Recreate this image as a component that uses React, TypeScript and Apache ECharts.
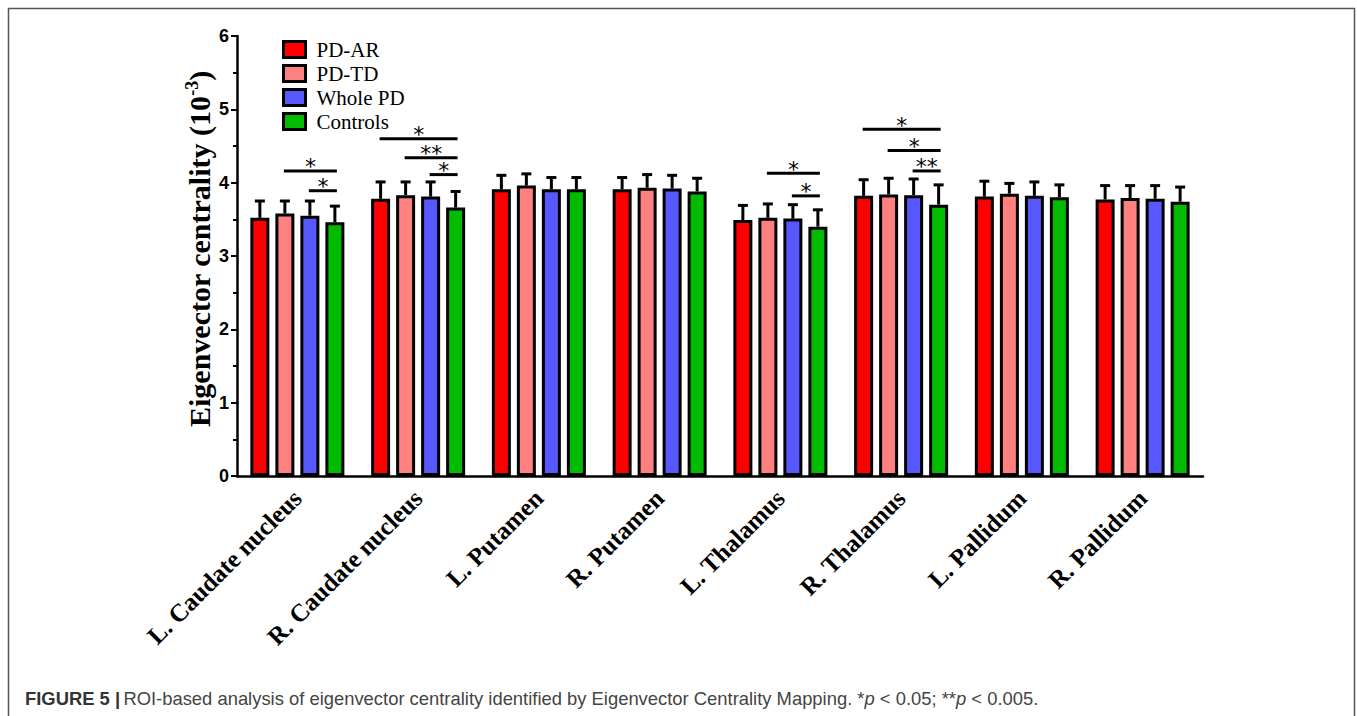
import React, { useEffect, useRef } from "react";
import * as echarts from "echarts";

const categories = [
  "L. Caudate nucleus",
  "R. Caudate nucleus",
  "L. Putamen",
  "R. Putamen",
  "L. Thalamus",
  "R. Thalamus",
  "L. Pallidum",
  "R. Pallidum",
];
const seriesNames = ["PD-AR", "PD-TD", "Whole PD", "Controls"];
const seriesColors = ["#ff0000", "#ff8080", "#5858ff", "#00bb00"];

const pdAR = [3.52, 3.78, 3.91, 3.91, 3.49, 3.82, 3.81, 3.77];
const pdARsd = [0.23, 0.23, 0.19, 0.16, 0.2, 0.22, 0.21, 0.19];
const pdTD = [3.58, 3.83, 3.96, 3.93, 3.52, 3.84, 3.85, 3.79];
const pdTDsd = [0.17, 0.18, 0.16, 0.18, 0.19, 0.22, 0.14, 0.17];
const wholePD = [3.55, 3.81, 3.91, 3.92, 3.51, 3.83, 3.82, 3.78];
const wholePDsd = [0.2, 0.2, 0.16, 0.18, 0.19, 0.22, 0.19, 0.18];
const controls = [3.46, 3.66, 3.91, 3.88, 3.4, 3.7, 3.8, 3.74];
const controlsSd = [0.22, 0.22, 0.16, 0.18, 0.23, 0.27, 0.17, 0.2];

const yTicks = [0, 1, 2, 3, 4, 5, 6];

// significance brackets
const sigCat = [0, 0, 1, 1, 1, 4, 4, 5, 5, 5];
const sigFrom = [1, 2, 0, 1, 2, 1, 2, 0, 1, 2];
const sigTo = [3, 3, 3, 3, 3, 3, 3, 3, 3, 3];
const sigY = [4.16, 3.89, 4.6, 4.34, 4.11, 4.13, 3.82, 4.73, 4.44, 4.16];
const sigLabel = ["*", "*", "*", "**", "*", "*", "*", "*", "*", "**"];

const means = [pdAR, pdTD, wholePD, controls];
const sds = [pdARsd, pdTDsd, wholePDsd, controlsSd];

const BAR_W = 19;
const BAR_GAP = 0.316;
const barOffset = (i: number) => (i - 1.5) * BAR_W * (1 + BAR_GAP);

export default function App() {
  const ref = useRef<HTMLDivElement>(null);
  useEffect(() => {
    if (!ref.current) return;
    const chart = echarts.init(ref.current, null, { renderer: "svg" });

    const barSeries = seriesNames.map((name, i) => ({
      name,
      type: "bar",
      data: means[i],
      barWidth: BAR_W,
      barGap: BAR_GAP * 100 + "%",
      itemStyle: { color: seriesColors[i], borderColor: "#000", borderWidth: 3 },
      z: 2,
    }));

    const errData: number[][] = [];
    for (let s = 0; s < 4; s++) {
      for (let c = 0; c < categories.length; c++) {
        errData.push([c, s, means[s][c], means[s][c] + sds[s][c]]);
      }
    }

    const sigData = sigCat.map((c, k) => [c, sigFrom[k], sigTo[k], sigY[k]]);

    const option: any = {
      animation: false,
      backgroundColor: "#fff",
      grid: { left: 237, right: 154, top: 36, bottom: 240, containLabel: false },
      legend: {
        orient: "vertical",
        left: 277,
        top: 34,
        itemWidth: 22,
        itemHeight: 16,
        itemGap: 3,
        icon: "rect",
        data: seriesNames,
        itemStyle: { borderColor: "#000", borderWidth: 3 },
        textStyle: {
          fontFamily: "'Liberation Serif', 'Times New Roman', serif",
          fontSize: 21,
          color: "#000",
          padding: [0, 0, 0, 6],
          lineHeight: 20,
        },
      },
      xAxis: {
        type: "category",
        data: categories,
        axisLine: { lineStyle: { color: "#000", width: 2.5 } },
        axisTick: { alignWithLabel: true, length: 5, lineStyle: { color: "#000", width: 2 } },
        axisLabel: {
          interval: 0,
          rotate: 45,
          margin: 18,
          color: "#000",
          fontSize: 25,
          fontWeight: "bold",
          fontFamily: "'Liberation Serif', 'Times New Roman', serif",
        },
      },
      yAxis: {
        type: "value",
        min: yTicks[0],
        max: yTicks[yTicks.length - 1],
        interval: 1,
        axisLine: { show: true, lineStyle: { color: "#000", width: 2.5 } },
        axisTick: { show: true, length: 6, lineStyle: { color: "#000", width: 2 } },
        minorTick: { show: true, splitNumber: 2, length: 4, lineStyle: { color: "#000", width: 2 } },
        splitLine: { show: false },
        axisLabel: {
          margin: 8,
          color: "#000",
          fontSize: 18,
          fontWeight: "bold",
          fontFamily: "'Liberation Sans Narrow', 'Arial Narrow', 'Liberation Sans', sans-serif",
        },
      },
      graphic: [
        {
          type: "rect",
          shape: { x: 8.5, y: 8.5, width: 1346, height: 730 },
          style: { fill: "none", stroke: "#555", lineWidth: 1.5 },
          silent: true,
        },
        {
          type: "text",
          x: 199,
          y: 249,
          rotation: Math.PI / 2,
          style: {
            text: "{a|Eigenvector centrality (10}{b|-3}{a|)}",
            align: "center",
            verticalAlign: "middle",
            rich: {
              a: {
                fontSize: 30,
                fontWeight: "bold",
                fontFamily: "'Liberation Serif', 'Times New Roman', serif",
                fill: "#000",
                color: "#000",
              },
              b: {
                fontSize: 18,
                fontWeight: "bold",
                fontFamily: "'Liberation Serif', 'Times New Roman', serif",
                fill: "#000",
                color: "#000",
                verticalAlign: "top",
                padding: [0, 0, 14, 0],
              },
            },
          },
        },
        {
          type: "text",
          x: 25,
          y: 698,
          style: {
            text: "{b|FIGURE 5 |} {r|ROI-based analysis of eigenvector centrality identified by Eigenvector Centrality Mapping. *}{i|p}{r| < 0.05; **}{i|p}{r| < 0.005.}",
            align: "left",
            verticalAlign: "middle",
            rich: {
              b: { fontSize: 18.4, fontWeight: "bold", fontFamily: "'Liberation Sans', Arial, sans-serif", fill: "#333", color: "#333" },
              r: { fontSize: 18.4, fontFamily: "'Liberation Sans', Arial, sans-serif", fill: "#444", color: "#444" },
              i: { fontSize: 18.4, fontStyle: "italic", fontFamily: "'Liberation Sans', Arial, sans-serif", fill: "#444", color: "#444" },
            },
          },
        },
      ],
      series: [
        ...barSeries,
        {
          type: "custom",
          name: "errors",
          data: errData,
          encode: { x: 0, y: 3 },
          z: 5,
          silent: true,
          renderItem: (params: any, api: any) => {
            const c = api.value(0);
            const s = api.value(1);
            const p0 = api.coord([c, api.value(2)]);
            const p1 = api.coord([c, api.value(3)]);
            const x = p0[0] + barOffset(s);
            return {
              type: "group",
              children: [
                { type: "line", shape: { x1: x, y1: p0[1], x2: x, y2: p1[1] }, style: { stroke: "#000", lineWidth: 3 } },
                { type: "line", shape: { x1: x - 5, y1: p1[1], x2: x + 5, y2: p1[1] }, style: { stroke: "#000", lineWidth: 3 } },
              ],
            };
          },
        },
        {
          type: "custom",
          name: "sig",
          data: sigData,
          encode: { x: 0, y: 3 },
          z: 5,
          silent: true,
          renderItem: (params: any, api: any) => {
            const c = api.value(0);
            const p = api.coord([c, api.value(3)]);
            const x1 = p[0] + barOffset(api.value(1)) - 1;
            const x2 = p[0] + barOffset(api.value(2)) + 2;
            const label = sigLabel[params.dataIndex];
            return {
              type: "group",
              children: [
                { type: "line", shape: { x1, y1: p[1], x2, y2: p[1] }, style: { stroke: "#000", lineWidth: 3 } },
                {
                  type: "text",
                  x: (x1 + x2) / 2,
                  y: p[1] - 4,
                  style: {
                    text: label,
                    align: "center",
                    verticalAlign: "middle",
                    fill: "#000",
                    lineHeight: 12,
                    font: "22px 'DejaVu Sans', sans-serif",
                  },
                },
              ],
            };
          },
        },
      ],
    };
    chart.setOption(option);
    return () => chart.dispose();
  }, []);
  return (
    <div
      ref={ref}
      style={{ position: "fixed", left: 0, top: 0, width: 1357, height: 716, background: "#fff" }}
    />
  );
}
